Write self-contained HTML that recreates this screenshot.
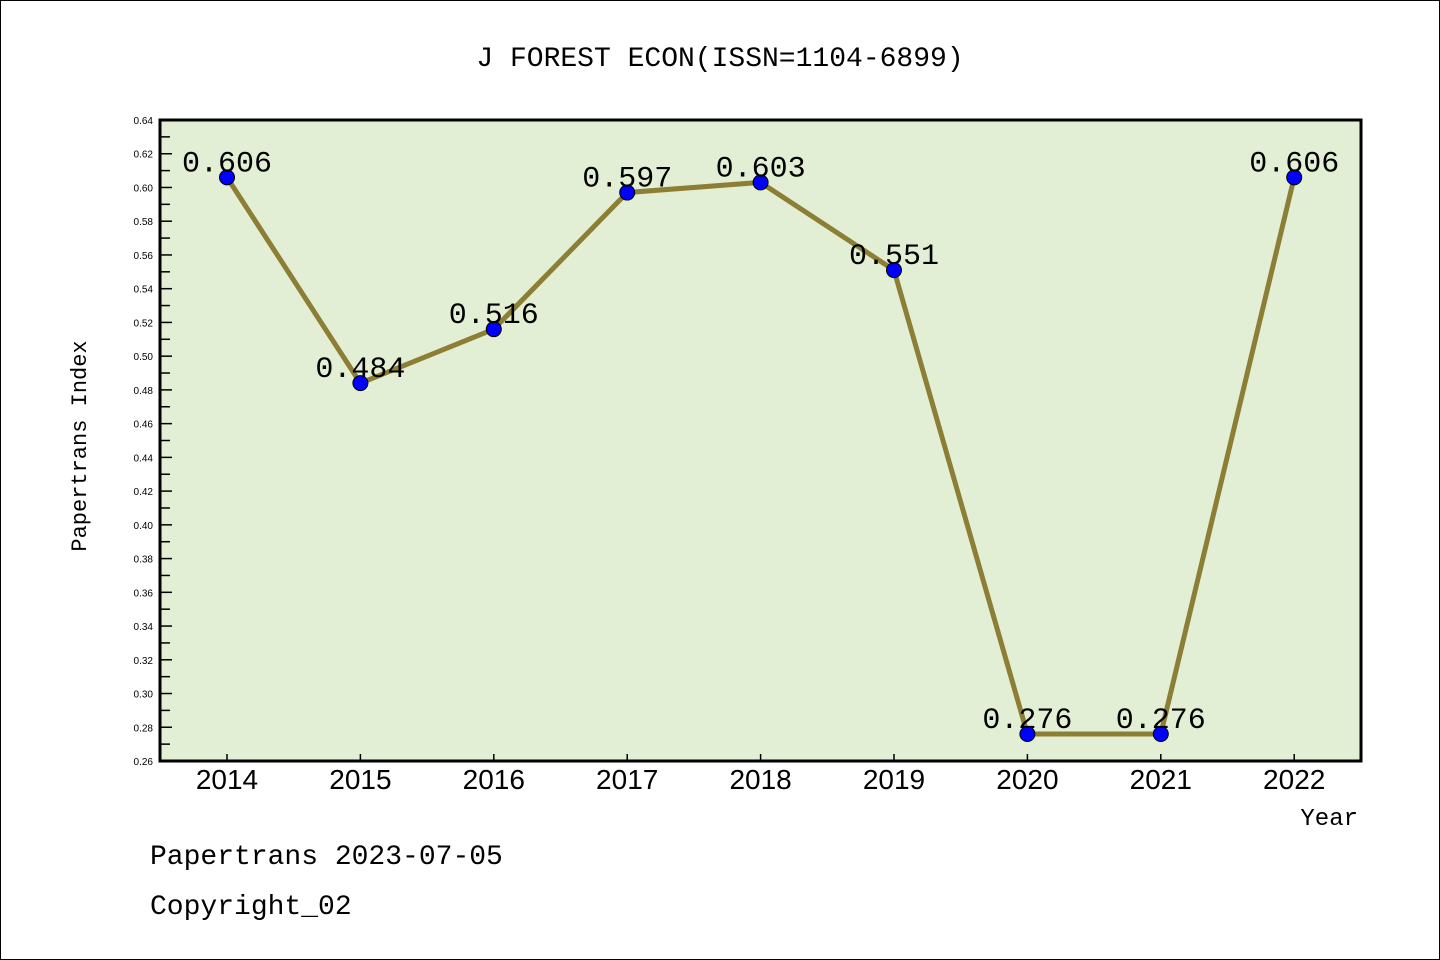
<!DOCTYPE html>
<html><head><meta charset="utf-8"><style>
body{margin:0;background:#fff;}
svg{display:block;font-family:"Liberation Sans","Noto Sans CJK SC",sans-serif;}
</style></head><body>
<svg id="c" width="1440" height="960">
<rect x="0.5" y="0.5" width="1439" height="959" fill="#fff" stroke="#000"/>
<text x="720" y="66" text-anchor="middle" font-size="28" font-family="Liberation Mono, monospace">J FOREST ECON(ISSN=1104-6899)</text>
<rect x="160" y="120" width="1201" height="641" fill="#e2efd5"/>
<g id="ticks"></g>
<g id="series"></g>
<rect x="160" y="120" width="1201" height="641" fill="none" stroke="#000" stroke-width="3"/>
<text x="86" y="446" transform="rotate(-90 86 446)" text-anchor="middle" font-size="22" font-family="Liberation Mono, monospace">Papertrans Index</text>
<text x="1358" y="825" text-anchor="end" font-size="24" font-family="Liberation Mono, monospace">Year</text>
<text x="150" y="864" font-size="28" font-family="Liberation Mono, monospace">Papertrans 2023-07-05</text>
<text x="150" y="914" font-size="28" font-family="Liberation Mono, monospace">Copyright_02</text>
</svg>
<script>
const years=["2014","2015","2016","2017","2018","2019","2020","2021","2022"];
const values=[0.606,0.484,0.516,0.597,0.603,0.551,0.276,0.276,0.606];
const labels=["0.606","0.484","0.516","0.597","0.603","0.551","0.276","0.276","0.606"];
const yTicks=[0.26,0.28,0.30,0.32,0.34,0.36,0.38,0.40,0.42,0.44,0.46,0.48,0.50,0.52,0.54,0.56,0.58,0.60,0.62,0.64];
const NS="http://www.w3.org/2000/svg";
const y0=761,y1=120,vmin=0.26,vmax=0.64;
function ys(v){return y0-(v-vmin)/(vmax-vmin)*(y0-y1);}
function xs(i){return 227+i*133.4;}
function mk(t,a,p){const e=document.createElementNS(NS,t);for(const k in a)e.setAttribute(k,a[k]);p.appendChild(e);return e;}
const tg=document.getElementById('ticks'),sg=document.getElementById('series');
yTicks.forEach((v,i)=>{
  const y=ys(v);
  const l=mk('line',{x1:160,x2:172,y1:y,y2:y,stroke:'#000','stroke-width':1.5},tg);
  
  
  const t=mk('text',{x:153,y:y+4,'text-anchor':'end','font-size':10},tg);
  t.textContent=v.toFixed(2);
  
  
  if(i<yTicks.length-1){
    const ym=ys(v+0.01);
    const m=mk('line',{x1:160,x2:170,y1:ym,y2:ym,stroke:'#000','stroke-width':1.5},tg);
    
    
  }
});
years.forEach((yr,i)=>{
  const x=xs(i);
  const l=mk('line',{x1:x,x2:x,y1:761,y2:754,stroke:'#000','stroke-width':1.5},tg);
  
  
  const t=mk('text',{x:x,y:789,'text-anchor':'middle','font-size':28},tg);
  t.textContent=yr;
  
  
});
const pts=values.map((v,i)=>xs(i)+','+ys(v)).join(' ');
const pl=mk('polyline',{points:pts,fill:'none',stroke:'#8c7e34','stroke-width':5,'stroke-linejoin':'round'},sg);


values.forEach((v,i)=>{
  const c=mk('circle',{cx:xs(i),cy:ys(v),r:7.5,fill:'#0000ff',stroke:'#000','stroke-width':1},sg);
  
  
  const t=mk('text',{x:xs(i),y:ys(v)-6,'text-anchor':'middle','font-size':30,'font-family':'Liberation Mono, monospace'},sg);
  t.textContent=labels[i];
  
  
});
</script>
</body></html>
